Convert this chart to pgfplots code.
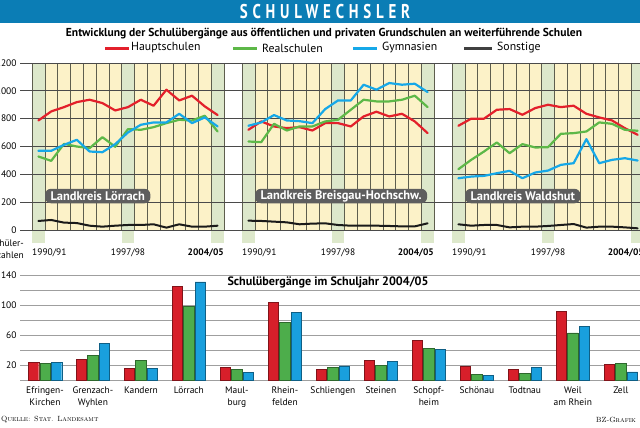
\documentclass[border=0pt]{standalone}
\usepackage{pgfplots}
\usepackage{pgfplotstable}
\usepackage{graphicx}
\pgfplotsset{compat=1.18}
\usepackage{fontspec}
\setsansfont{PT Sans}
\definecolor{hred}{HTML}{E3202B}
\definecolor{rgreen}{HTML}{5DB848}
\definecolor{gblue}{HTML}{16A8E8}
\definecolor{sblack}{HTML}{1A1A1A}
\definecolor{banner}{HTML}{0B7DB5}
\definecolor{ybg}{HTML}{FCF2C8}
\definecolor{gbg}{HTML}{DDE8CB}
\definecolor{vline}{HTML}{5E5E4E}
\definecolor{hline}{HTML}{4A4A4A}
\definecolor{boxgray}{HTML}{5E5E5E}
\definecolor{bred}{HTML}{D71F2A}
\definecolor{bgreen}{HTML}{4DAD4B}
\definecolor{bblue}{HTML}{199FDD}

\pgfplotstableread{
yr H R G S
1 787 528 569 65
2 852 497 569 72
3 883 619 612 53
4 919 600 648 50
5 936 588 564 31
6 912 667 559 24
7 859 598 617 31
8 883 725 701 36
9 936 720 756 36
10 893 739 773 41
11 1008 768 773 17
12 931 792 835 41
13 965 787 768 24
14 888 821 809 24
15 826 708 744 31
}\loerrach

\pgfplotstableread{
yr H R G S
1 720 636 749 67
2 780 631 773 65
3 744 763 826 60
4 732 715 787 55
5 739 744 782 41
6 715 744 768 46
7 768 780 869 48
8 768 792 931 36
9 744 864 931 31
10 816 936 1044 31
11 850 924 1008 31
12 816 924 1056 29
13 835 936 1044 26
14 780 965 1051 26
15 696 883 991 48
}\breisgau

\pgfplotstableread{
yr H R G S
1 749 437 372 41
2 800 504 384 31
3 800 564 389 36
4 864 629 408 36
5 869 552 425 19
6 828 617 372 24
7 876 593 413 24
8 900 595 427 29
9 883 691 468 36
10 893 696 480 43
11 835 708 653 17
12 809 773 480 24
13 787 763 504 24
14 732 720 516 19
15 684 713 499 12
}\waldshut

\pgfplotstableread{
i H R G
0 23.5 22 23.5
1 27.5 32.5 49
2 16 26 16
3 125 98 131
4 17 14 10
5 104 77 90
6 14 17 19
7 26 19.5 25
8 53 42 41
9 18.5 7.5 6
10 14 9 16.5
11 92 63 72
12 21 22 11
}\bars

\pgfplotsset{
  panel/.style={anchor=south west, scale only axis, width=192bp, height=167bp,
    xmin=0.5, xmax=15.5, ymin=0, ymax=1200, hide axis, clip=false},
  dline/.style={line width=2.2bp, no markers, line join=round, line cap=round},
}
\newcommand{\panelplots}[1]{%
  \addplot[hred, dline] table[x=yr,y=H]{#1};
  \addplot[rgreen, dline] table[x=yr,y=R]{#1};
  \addplot[gblue, dline] table[x=yr,y=G]{#1};
  \addplot[sblack, dline, line width=2bp] table[x=yr,y=S]{#1};
  \node[anchor=west, inner sep=0pt, font=\sffamily\fontsize{9.5}{10}\selectfont] at (axis cs:0.5,-165) {1990/91};
  \node[anchor=center, inner sep=0pt, font=\sffamily\fontsize{9.5}{10}\selectfont] at (axis cs:8,-165) {1997/98};
  \node[anchor=east, inner sep=0pt, font=\sffamily\bfseries\fontsize{9.5}{10}\selectfont] at (axis cs:15.5,-165) {2004/05};
}
\newcommand{\lkbox}[1]{%
  \node[anchor=west, fill=boxgray, text=white, rounded corners=6bp, inner xsep=5.5bp,
    minimum height=14.5bp, inner ysep=0pt, font=\sffamily\bfseries\fontsize{12.5}{13}\selectfont]
    at (axis cs:1.5,244) {#1};
}

\begin{document}
\begin{tikzpicture}[x=1bp,y=1bp,font=\sffamily]
\path[use as bounding box] (0,0) rectangle (640,427);
\clip (0,0) rectangle (640,427);

% banner
\fill[banner] (0,404) rectangle (640,427);
\node[text=white, font=\sffamily\bfseries\fontsize{20}{20}\selectfont] at (325,415.5)
  {\scalebox{0.75}[1]{\addfontfeatures{LetterSpace=32}SCHULWECHSLER}};

% subtitle
\node[font=\sffamily\bfseries\fontsize{11.6}{12}\selectfont] at (324,393)
  {Entwicklung der Schulübergänge aus öffentlichen und privaten Grundschulen an weiterführende Schulen};

% legend
\begin{scope}[font=\sffamily\fontsize{11.8}{12}\selectfont]
\draw[hred, line width=3bp] (105,379) -- (129,379);
\node[anchor=west, inner sep=0pt] at (131,379) {Hauptschulen};
\draw[rgreen, line width=3bp] (233,379) -- (257,379);
\node[anchor=west, inner sep=0pt] at (262,379) {Realschulen};
\draw[gblue, line width=3bp] (353,379) -- (377,379);
\node[anchor=west, inner sep=0pt] at (382,379) {Gymnasien};
\draw[darkgray, line width=3bp] (464,379) -- (492,379);
\node[anchor=west, inner sep=0pt] at (497,379) {Sonstige};
\end{scope}

% panel backgrounds
\foreach \p in {0,1,2}{
  \pgfmathsetmacro{\L}{32+210*\p}
  \fill[ybg] (\L,197) rectangle ({\L+192},364);
  \foreach \c in {0,7,14}{
    \fill[gbg] ({\L+12.8*\c},184) rectangle ({\L+12.8*\c+12.8},364);
  }
  \foreach \c in {0,...,15}{
    \draw[vline, line width=0.6bp] ({\L+12.8*\c},197) -- ({\L+12.8*\c},364);
  }
}

% full-width horizontal grid with y labels
\begin{axis}[at={(20bp,197bp)}, anchor=south west, scale only axis,
  width=620bp, height=167bp, xmin=0, xmax=1, ymin=0, ymax=1200,
  ytick={0,200,...,1200}, xtick=\empty, ymajorgrids,
  grid style={hline, line width=0.8bp}, axis line style={draw=none},
  major tick length=0pt,
  yticklabel style={font=\sffamily\fontsize{9.5}{10}\selectfont},
  /pgf/number format/assume math mode=true, /pgf/number format/1000 sep={}]
\end{axis}
\node[anchor=east, align=right, inner sep=0pt, font=\sffamily\fontsize{9.5}{12}\selectfont] at (24,178) {Schüler-\\zahlen};

% data panels
\begin{axis}[panel, at={(32bp,197bp)}]
\panelplots{\loerrach}
\lkbox{Landkreis Lörrach}
\end{axis}
\begin{axis}[panel, at={(242bp,197bp)}]
\panelplots{\breisgau}
\lkbox{Landkreis Breisgau-Hochschw.}
\end{axis}
\begin{axis}[panel, at={(452bp,197bp)}]
\panelplots{\waldshut}
\lkbox{Landkreis Waldshut}
\end{axis}

% bar chart
\begin{axis}[at={(20bp,47bp)}, anchor=south west, scale only axis,
  width=620bp, height=105bp, xmin=-0.52, xmax=12.4, ymin=0, ymax=140,
  ybar=1bp, bar width=10.5bp,
  ytick={0,20,...,140}, yticklabels={,20,,60,,100,,140}, ymajorgrids,
  grid style={gray!75, line width=0.7bp}, axis line style={draw=none},
  major tick length=0pt,
  xtick={0,...,12},
  xticklabels={Efringen-\\Kirchen, Grenzach-\\Wyhlen, Kandern, Lörrach, Maul-\\burg, Rhein-\\felden, Schliengen, Steinen, Schopf-\\heim, Schönau, Todtnau, Weil\\am Rhein, Zell},
  xticklabel style={align=center, font=\sffamily\fontsize{9.5}{12}\selectfont, yshift=-3bp},
  yticklabel style={font=\sffamily\fontsize{9.5}{10}\selectfont},
  clip=false]
\addplot[fill=bred, draw=bred!60!black, line width=0.4bp] table[x=i,y=H]{\bars};
\addplot[fill=bgreen, draw=bgreen!60!black, line width=0.4bp] table[x=i,y=R]{\bars};
\addplot[fill=bblue, draw=bblue!60!black, line width=0.4bp] table[x=i,y=G]{\bars};
\end{axis}
\node[font=\sffamily\bfseries\fontsize{12.2}{13}\selectfont] at (328,145) {Schulübergänge im Schuljahr 2004/05};

% footer
\node[anchor=west, inner sep=0pt, font=\rmfamily\scshape\fontsize{7.5}{8}\selectfont] at (1,7) {Quelle: Stat. Landesamt};
\node[anchor=east, inner sep=0pt, font=\rmfamily\scshape\fontsize{7.5}{8}\selectfont] at (636,7) {BZ-Grafik};
\end{tikzpicture}
\end{document}
